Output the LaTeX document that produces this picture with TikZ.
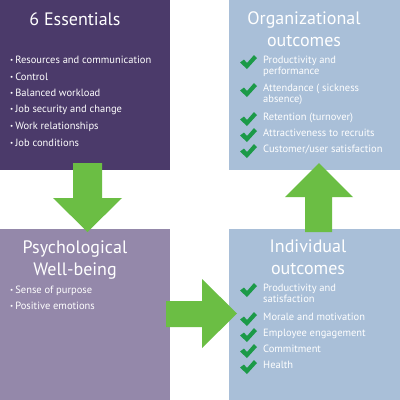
\documentclass[tikz,border=0pt]{standalone}
\usepackage{fontspec}
\setmainfont{PT Sans}
\definecolor{darkpurple}{HTML}{4B3A6A}
\definecolor{lightpurple}{HTML}{9488AA}
\definecolor{lightblue}{HTML}{A9BFD8}
\definecolor{arrowgreen}{HTML}{6BBE44}
\definecolor{checkgreen}{HTML}{1C9A48}
\begin{document}
\begin{tikzpicture}[x=1pt,y=-1pt,
  box/.style={inner sep=0pt,outer sep=0pt},
  ttl/.style={text=white,font=\fontsize{18}{18}\selectfont,anchor=base,inner sep=0pt},
  item/.style={text=white,font=\fontsize{10.5}{12}\selectfont,anchor=base west,inner sep=0pt},
  blockarrow/.style={fill=arrowgreen,draw=none},
  chk/.pic={\fill[checkgreen] (0,7.5) -- (4,4.5) -- (7,8) -- (14,0) -- (17,3) -- (7,14) -- cycle;}
]
\useasboundingbox (0,0) rectangle (400,400);
\fill[white] (0,0) rectangle (400,400);
% boxes
\fill[darkpurple] (0,0) rectangle (170,170) coordinate (ess);
\fill[lightblue] (229,0) rectangle (400,170) coordinate (org);
\fill[lightpurple] (0,229) rectangle (170,400) coordinate (psy);
\fill[lightblue] (229,229) rectangle (400,400) coordinate (ind);
% arrows
\fill[blockarrow] (73,163) -- (102,163) -- (102,198) -- (122,198) -- (87.5,232) -- (53,198) -- (73,198) -- cycle;
\fill[blockarrow] (166,301) -- (202,301) -- (202,279) -- (237,313.5) -- (202,348) -- (202,327) -- (166,327) -- cycle;
\fill[blockarrow] (305,232) -- (332,232) -- (332,197) -- (353,197) -- (319,163) -- (285,197) -- (305,197) -- cycle;
% titles
\node[ttl] (t1) at (75,25) {6 Essentials};
\node[ttl] (t2a) at (304,24) {Organizational};
\node[ttl] (t2b) at (304,46) {outcomes};
\node[ttl] (t3a) at (75,253) {Psychological};
\node[ttl] (t3b) at (75,275) {Well-being};
\node[ttl] (t4a) at (308,252) {Individual};
\node[ttl] (t4b) at (308,274) {outcomes};
% bullets
\newcommand{\bul}{{\fontsize{7}{7}\selectfont\raisebox{0.6pt}{•}}\hspace{2pt}}
\node[item] (e1) at (10,63) {\bul Resources and communication};
\node[item] (e2) at (10,80) {\bul Control};
\node[item] (e3) at (10,96) {\bul Balanced workload};
\node[item] (e4) at (10,112) {\bul Job security and change};
\node[item] (e5) at (10,129) {\bul Work relationships};
\node[item] (e6) at (10,146) {\bul Job conditions};
\node[item] (p1) at (10,293) {\bul Sense of purpose};
\node[item] (p2) at (10,309) {\bul Positive emotions};
% organizational outcomes
\node[item] (o1) at (263,63) {Productivity and};
\node[item] (o1b) at (263,74) {performance};
\node[item] (o2) at (263,91) {Attendance ( sickness};
\node[item] (o2b) at (263,102) {absence)};
\node[item] (o3) at (263,120) {Retention (turnover)};
\node[item] (o4) at (263,136) {Attractiveness to recruits};
\node[item] (o5) at (263,152) {Customer/user satisfaction};
\foreach \b in {63,91,120,136,152} \pic at (240,\b-8) {chk};
% individual outcomes
\node[item] (i1) at (263,291) {Productivity and};
\node[item] (i1b) at (263,302) {satisfaction};
\node[item] (i2) at (263,320) {Morale and motivation};
\node[item] (i3) at (263,336) {Employee engagement};
\node[item] (i4) at (263,352) {Commitment};
\node[item] (i5) at (263,368) {Health};
\foreach \b in {291,320,336,352,368} \pic at (240,\b-8) {chk};
\end{tikzpicture}
\end{document}
